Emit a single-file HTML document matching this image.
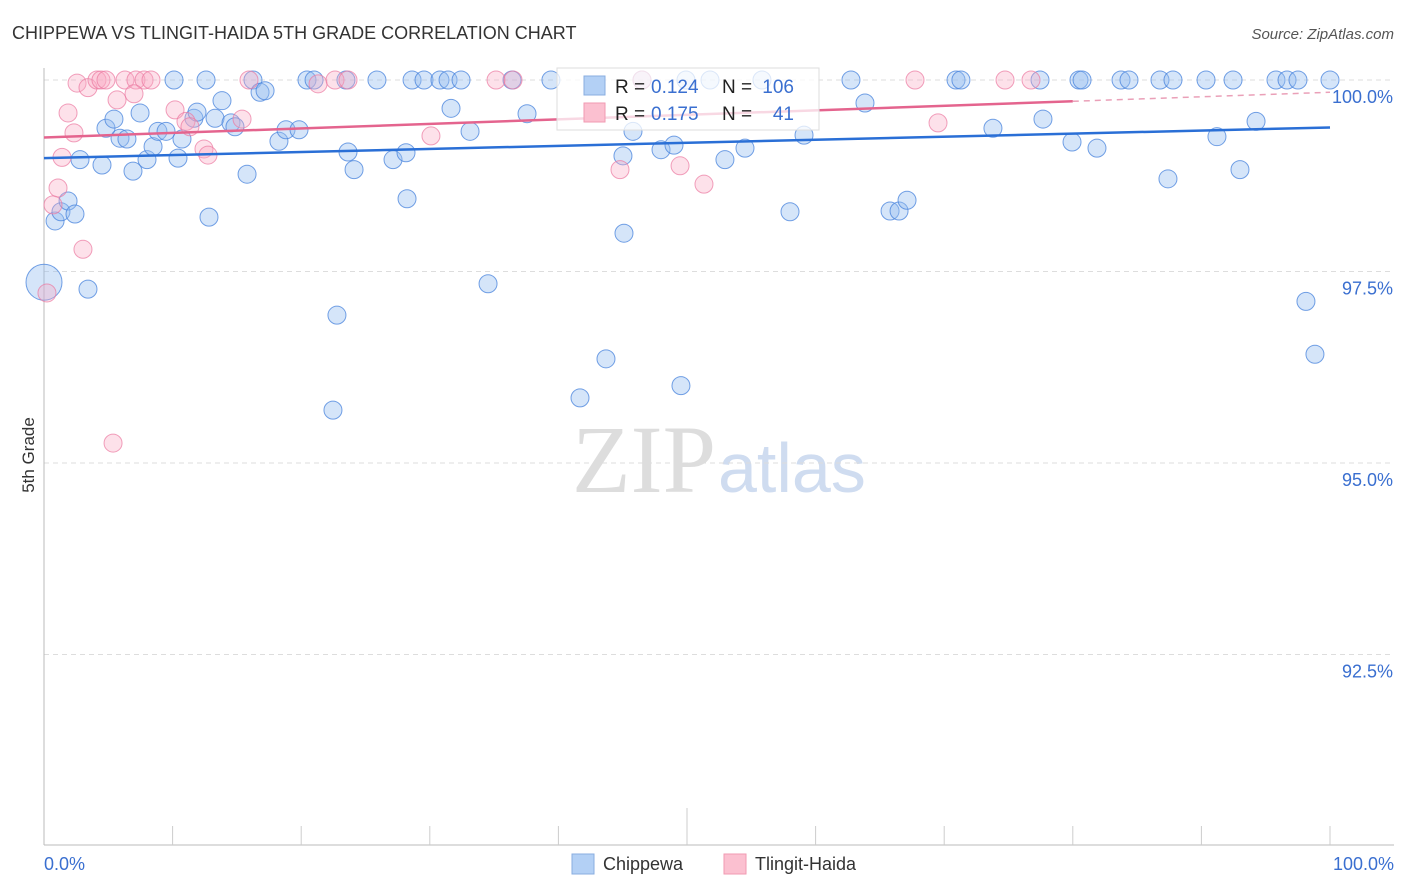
<!DOCTYPE html>
<html><head><meta charset="utf-8"><style>
body{margin:0;background:#fff;font-family:"Liberation Sans",sans-serif;}
svg{display:block}
</style></head><body>
<svg id="chart" width="1406" height="892">
<text x="12" y="39" font-size="18" fill="#333">CHIPPEWA VS TLINGIT-HAIDA 5TH GRADE CORRELATION CHART</text>
<text x="1394" y="39" font-size="15" fill="#555" font-style="italic" text-anchor="end">Source: ZipAtlas.com</text>
<text x="34" y="455" font-size="17" fill="#333" text-anchor="middle" transform="rotate(-90 34 455)">5th Grade</text>
<text x="716" y="492" font-size="96" fill="#ddd" text-anchor="end" font-family="Liberation Serif,serif">ZIP</text>
<text x="718" y="492" font-size="70" fill="#cfdcf0">atlas</text>
<g id="grid"></g><g id="axes"></g><g id="pts"></g><g id="trend"></g>
<g>
<rect x="557" y="68" width="262" height="62" fill="rgba(255,255,255,0.75)" stroke="#ddd"/>
<rect x="584" y="76" width="21" height="19" fill="#b3d0f5" stroke="#88aee0"/>
<rect x="584" y="103" width="21" height="19" fill="#fbc0d0" stroke="#f09ab2"/>
<text x="615" y="93" font-size="19" fill="#222">R =</text>
<text x="651" y="93" font-size="19" fill="#3a6fd0">0.124</text>
<text x="722" y="93" font-size="19" fill="#222">N =</text>
<text x="794" y="93" font-size="19" fill="#3a6fd0" text-anchor="end">106</text>
<text x="615" y="120" font-size="19" fill="#222">R =</text>
<text x="651" y="120" font-size="19" fill="#3a6fd0">0.175</text>
<text x="722" y="120" font-size="19" fill="#222">N =</text>
<text x="794" y="120" font-size="19" fill="#3a6fd0" text-anchor="end">41</text>
</g>
<g>
<rect x="572" y="854" width="22" height="20" fill="#b3d0f5" stroke="#88aee0"/>
<text x="603" y="870" font-size="18" fill="#333">Chippewa</text>
<rect x="724" y="854" width="22" height="20" fill="#fbc0d0" stroke="#f09ab2"/>
<text x="755" y="870" font-size="18" fill="#333">Tlingit-Haida</text>
</g>
<text x="44" y="870" font-size="18" fill="#3a6fd0">0.0%</text>
<text x="1394" y="870" font-size="18" fill="#3a6fd0" text-anchor="end">100.0%</text>
</svg>
<script>
const yTicks=[100,97.5,95,92.5];
const yTickLabels=["100.0%","97.5%","95.0%","92.5%"];
const blueX=[10.11,12.6,16.25,20.45,21.0,23.48,25.89,28.62,29.55,30.79,31.42,32.43,36.39,39.42,46.5,49.92,51.79,55.83,62.75,70.92,71.3,77.45,80.48,80.72,83.75,84.37,86.78,87.79,90.36,92.46,95.8,96.66,97.51,100,
0,0.86,1.32,1.87,2.41,2.80,3.42,4.51,4.82,5.44,5.91,6.45,6.92,7.47,8.01,8.48,8.86,9.49,10.42,10.73,11.66,11.90,12.83,13.30,13.84,14.54,14.85,15.79,16.80,17.19,18.27,18.82,19.83,22.78,22.47,23.64,24.11,27.14,28.15,28.23,31.65,33.13,34.53,37.56,41.68,43.70,45.02,45.10,45.80,47.98,48.99,49.53,52.95,54.51,58.01,59.10,63.84,65.79,66.49,67.11,73.79,77.68,79.94,81.88,87.40,91.21,93.00,94.25,98.13,98.83];
const blueY=[100,100,100,100,100,100,100,100,100,100,100,100,100,100,100,100,100,100,100,100,100,100,100,100,100,100,100,100,100,100,100,100,100,100,
97.36,98.16,98.28,98.42,98.25,98.96,97.27,98.89,99.37,99.49,99.24,99.23,98.81,99.57,98.96,99.13,99.33,99.33,98.98,99.23,99.50,99.58,98.21,99.50,99.73,99.44,99.39,98.77,99.84,99.86,99.20,99.35,99.35,96.93,95.69,99.06,98.83,98.96,99.05,98.45,99.63,99.33,97.34,99.56,95.85,96.36,99.01,98.00,99.33,99.09,99.15,96.01,98.96,99.11,98.28,99.28,99.70,98.29,98.29,98.43,99.37,99.49,99.19,99.11,98.71,99.26,98.83,99.46,97.11,96.42];
const pinkX=[2.57,3.42,4.12,4.43,4.82,6.3,7.15,7.78,8.32,15.94,21.31,22.63,23.64,35.15,36.47,46.5,67.73,74.73,76.75,
1.87,5.68,7.0,10.19,2.33,1.4,1.09,0.7,3.03,0.23,5.37,11.04,11.35,12.44,12.75,15.4,30.09,44.79,49.46,51.32,69.52];
const pinkY=[99.96,99.9,100,100,100,100,100,100,100,100,99.95,100,100,100,100,100,100,100,100,
99.57,99.74,99.82,99.61,99.31,98.99,98.59,98.37,97.79,97.22,95.26,99.46,99.39,99.1,99.02,99.49,99.27,98.83,98.88,98.64,99.44];
const blueTrend=[98.98,99.38];
const pinkTrend=[99.25,99.84];
const NS="http://www.w3.org/2000/svg";
const X=v=>44+v*12.86, Y=v=>80+(100-v)*76.6;
function mk(t,a,p){const e=document.createElementNS(NS,t);for(const k in a)e.setAttribute(k,a[k]);p.appendChild(e);return e;}
const grid=document.getElementById('grid'),axes=document.getElementById('axes'),pts=document.getElementById('pts'),tr=document.getElementById('trend');
yTicks.forEach((t,i)=>{
 const l=mk('line',{x1:44,x2:1394,y1:Y(t),y2:Y(t),stroke:'#ddd','stroke-dasharray':'5,4'},grid);
 
 
 const tx=mk('text',{x:1393,y:Y(t)+23,'font-size':18,fill:'#3a6fd0','text-anchor':'end'},grid);
 tx.textContent=yTickLabels[i];
 
 
});
mk('line',{x1:44,x2:44,y1:68,y2:845,stroke:'#bbb'},axes);
mk('line',{x1:44,x2:1394,y1:845,y2:845,stroke:'#bbb'},axes);
for(let i=1;i<=10;i++){const t=mk('line',{x1:X(i*10),x2:X(i*10),y1:i==5?808:826,y2:845,stroke:'#ccc'},axes);
 
 }
function dot(x,y,r,f,s,name){const c=mk('circle',{cx:X(x),cy:Y(y),r:r,fill:f,stroke:s,'stroke-width':1},pts);
 
 }
blueX.forEach((x,i)=>dot(x,blueY[i],i==34?18:9,'rgba(150,190,240,0.4)','rgba(70,130,220,0.75)','chippewa-point'));
pinkX.forEach((x,i)=>dot(x,pinkY[i],9,'rgba(248,170,195,0.35)','rgba(235,120,160,0.7)','tlingit-point'));
const bl=mk('line',{x1:X(0),y1:Y(blueTrend[0]),x2:X(100),y2:Y(blueTrend[1]),stroke:'#2a6fd6','stroke-width':2.5},tr);


const pm=pinkTrend[0]+(pinkTrend[1]-pinkTrend[0])*0.8;
const pl=mk('line',{x1:X(0),y1:Y(pinkTrend[0]),x2:X(80),y2:Y(pm),stroke:'#e4648e','stroke-width':2.5},tr);


const pd=mk('line',{x1:X(80),y1:Y(pm),x2:X(100),y2:Y(pinkTrend[1]),stroke:'#eaa0b8','stroke-width':1.5,'stroke-dasharray':'6,5'},tr);


</script>
</body></html>
